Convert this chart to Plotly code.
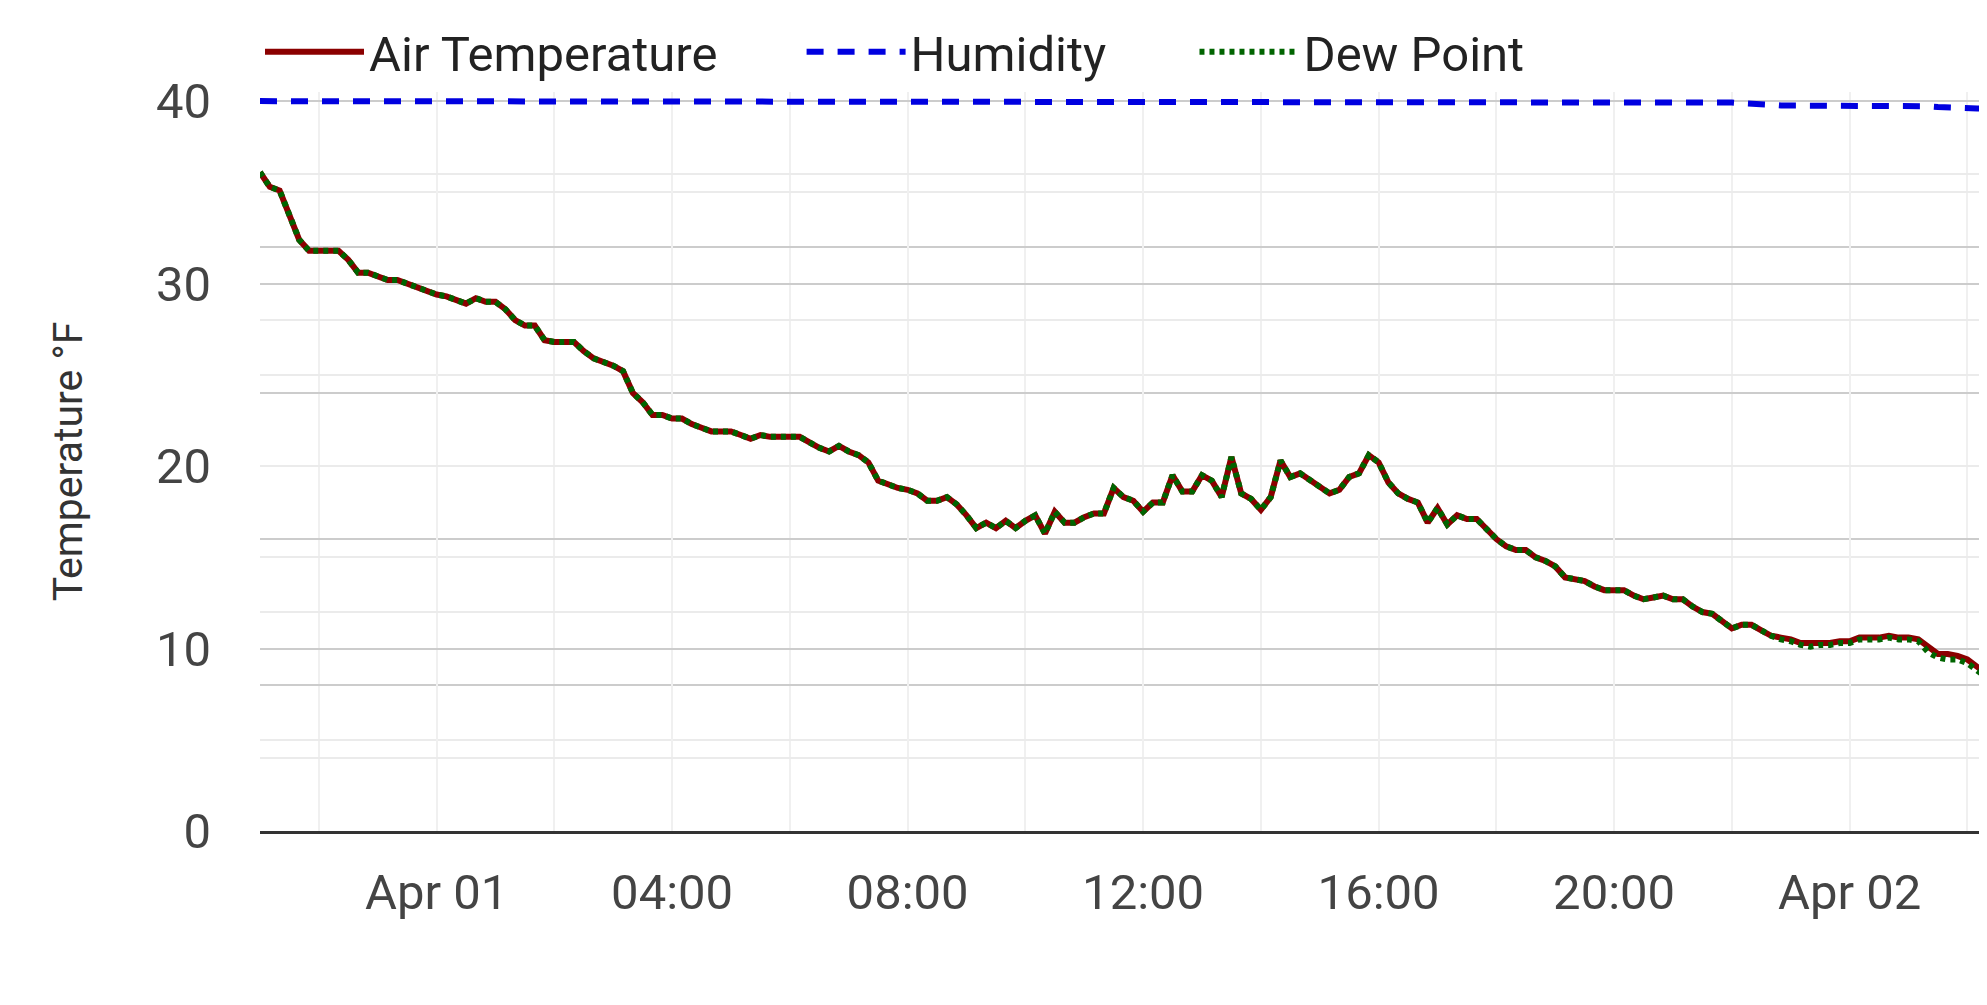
import pandas as pd
import plotly.graph_objects as go

# readings every 10 minutes, starting Mar 31 21:00
start = "2024-03-31 21:00"

air_temp = [
    36.1, 35.3, 35.1, 33.7, 32.4, 31.8,   # 21h
    31.8, 31.8, 31.8, 31.3, 30.6, 30.6,   # 22h
    30.4, 30.2, 30.2, 30.0, 29.8, 29.6,   # 23h
    29.4, 29.3, 29.1, 28.9, 29.2, 29.0,   # Apr 01 00h
    29.0, 28.6, 28.0, 27.7, 27.7, 26.9,
    26.8, 26.8, 26.8, 26.3, 25.9, 25.7,
    25.5, 25.2, 24.0, 23.5, 22.8, 22.8,
    22.6, 22.6, 22.3, 22.1, 21.9, 21.9,   # 04h
    21.9, 21.7, 21.5, 21.7, 21.6, 21.6,
    21.6, 21.6, 21.3, 21.0, 20.8, 21.1,
    20.8, 20.6, 20.2, 19.2, 19.0, 18.8,
    18.7, 18.5, 18.1, 18.1, 18.3, 17.9,   # 08h
    17.3, 16.6, 16.9, 16.6, 17.0, 16.6,
    17.0, 17.3, 16.3, 17.5, 16.9, 16.9,
    17.2, 17.4, 17.4, 18.8, 18.3, 18.1,
    17.5, 18.0, 18.0, 19.5, 18.6, 18.6,   # 12h
    19.5, 19.2, 18.3, 20.5, 18.5, 18.2,
    17.6, 18.3, 20.3, 19.4, 19.6, 19.2,
    18.9, 18.5, 18.7, 19.4, 19.6, 20.6,
    20.2, 19.1, 18.5, 18.2, 18.0, 16.9,   # 16h
    17.7, 16.8, 17.3, 17.1, 17.1, 16.5,
    16.0, 15.6, 15.4, 15.4, 15.0, 14.8,
    14.5, 13.9, 13.8, 13.7, 13.4, 13.2,
    13.2, 13.2, 12.9, 12.7, 12.8, 12.9,   # 20h
    12.7, 12.7, 12.3, 12.0, 11.9, 11.5,
    11.1, 11.3, 11.3, 11.0, 10.7, 10.6,
    10.5, 10.3, 10.3, 10.3, 10.3, 10.4,
    10.4, 10.6, 10.6, 10.6, 10.7, 10.6,   # Apr 02 00h
    10.6, 10.5, 10.1, 9.7, 9.7, 9.6,
    9.4, 9.0, 8.6,
]

dew_point = [
    36.1, 35.3, 35.1, 33.7, 32.4, 31.8,
    31.8, 31.8, 31.8, 31.3, 30.6, 30.6,
    30.4, 30.2, 30.2, 30.0, 29.8, 29.6,
    29.4, 29.3, 29.1, 28.9, 29.2, 29.0,
    29.0, 28.6, 28.0, 27.7, 27.7, 26.9,
    26.8, 26.8, 26.8, 26.3, 25.9, 25.7,
    25.5, 25.2, 24.0, 23.5, 22.8, 22.8,
    22.6, 22.6, 22.3, 22.1, 21.9, 21.9,
    21.9, 21.7, 21.5, 21.7, 21.6, 21.6,
    21.6, 21.6, 21.3, 21.0, 20.8, 21.1,
    20.8, 20.6, 20.2, 19.2, 19.0, 18.8,
    18.7, 18.5, 18.1, 18.1, 18.3, 17.9,
    17.3, 16.6, 16.9, 16.6, 17.0, 16.6,
    17.0, 17.3, 16.3, 17.5, 16.9, 16.9,
    17.2, 17.4, 17.4, 18.8, 18.3, 18.1,
    17.5, 18.0, 18.0, 19.5, 18.6, 18.6,
    19.5, 19.2, 18.3, 20.5, 18.5, 18.2,
    17.6, 18.3, 20.3, 19.4, 19.6, 19.2,
    18.9, 18.5, 18.7, 19.4, 19.6, 20.6,
    20.2, 19.1, 18.5, 18.2, 18.0, 16.9,
    17.7, 16.8, 17.3, 17.1, 17.1, 16.5,
    16.0, 15.6, 15.4, 15.4, 15.0, 14.8,
    14.5, 13.9, 13.8, 13.7, 13.4, 13.2,
    13.2, 13.2, 12.9, 12.7, 12.8, 12.9,
    12.7, 12.7, 12.3, 12.0, 11.9, 11.5,
    11.1, 11.3, 11.3, 11.0, 10.7, 10.5,
    10.4, 10.2, 10.1, 10.2, 10.2, 10.3,
    10.3, 10.5, 10.5, 10.5, 10.6, 10.5,
    10.5, 10.4, 9.8, 9.5, 9.4, 9.4,
    9.2, 8.8, 8.4,
]

# saturated until Apr 01 21:50, then a slight drop
humidity = [100.0] * 150 + [
    99.8, 99.7, 99.7, 99.6, 99.5, 99.4,
    99.4, 99.4, 99.4, 99.4, 99.5, 99.5,
    99.5, 99.5, 99.5, 99.5, 99.5, 99.5,
    99.5, 99.4, 99.3, 99.2, 99.2, 99.1,
    99.0, 99.0, 98.9,
]

tick_vals = ["2024-04-01 00:00", "2024-04-01 04:00", "2024-04-01 08:00", "2024-04-01 12:00",
             "2024-04-01 16:00", "2024-04-01 20:00", "2024-04-02 00:00"]
tick_text = ["Apr 01", "04:00", "08:00", "12:00", "16:00", "20:00", "Apr 02"]

times = pd.date_range(start, periods=len(air_temp), freq="10min")

fig = go.Figure()
fig.add_trace(go.Scatter(x=times, y=air_temp, name="Air Temperature", mode="lines",
                         line=dict(color="#8b0000", width=6), legend="legend"))
fig.add_trace(go.Scatter(x=times, y=humidity, name="Humidity", mode="lines", yaxis="y2",
                         line=dict(color="#0000e0", width=6, dash="17px,14px"), legend="legend2"))
fig.add_trace(go.Scatter(x=times, y=dew_point, name="Dew Point", mode="lines",
                         line=dict(color="#006400", width=6, dash="5px,5px"), legend="legend3"))

light = "#ebebeb"
dark = "#cccccc"


def legend_at(x):
    return dict(x=x, xanchor="left", y=1.0544, yanchor="middle", itemwidth=99,
                bgcolor="rgba(0,0,0,0)", font=dict(size=49, color="#222"))


# both y ranges get the same small headroom so the 100 % humidity line isn't clipped
fig.update_layout(
    template="plotly_white",
    width=1987, height=997,
    showlegend=True,
    font=dict(family="Roboto", size=49, color="#444"),
    margin=dict(l=252, r=8, t=84, b=174, autoexpand=False),
    legend=legend_at(0.0),
    legend2=legend_at(0.3136),
    legend3=legend_at(0.5411),
    xaxis=dict(range=[times[0], times[-1]], tickmode="array", tickvals=tick_vals, ticktext=tick_text,
               showgrid=True, gridcolor="#f0f0f0", gridwidth=2,
               minor=dict(tickmode="linear", tick0="2024-03-31 22:00", dtick=2 * 3600 * 1000,
                          showgrid=True, gridcolor="#f0f0f0", gridwidth=2),
               showline=True, linecolor="#333", linewidth=3, zeroline=False,
               ticks="", ticklabelstandoff=16),
    yaxis=dict(range=[0, 40.5], tick0=0, dtick=10, gridcolor=dark, gridwidth=2,
               minor=dict(dtick=5, showgrid=True, gridcolor=light, gridwidth=2),
               zeroline=False, ticks="", ticklabelstandoff=48,
               title=dict(text="Temperature °F", font=dict(size=41, color="#333"), standoff=60)),
    # humidity grid: odd tens light, even tens dark (light ones sit above temp grid)
    yaxis2=dict(overlaying="y", side="right", range=[0, 101.25], showticklabels=False,
                tickmode="array", tickvals=[10, 30, 50, 70, 90], gridcolor=light, gridwidth=2,
                minor=dict(tickmode="array", tickvals=[20, 40, 60, 80], showgrid=True,
                           gridcolor=dark, gridwidth=2),
                zeroline=False, ticks=""),
)

fig.write_html("out.html", config={"displayModeBar": False})
